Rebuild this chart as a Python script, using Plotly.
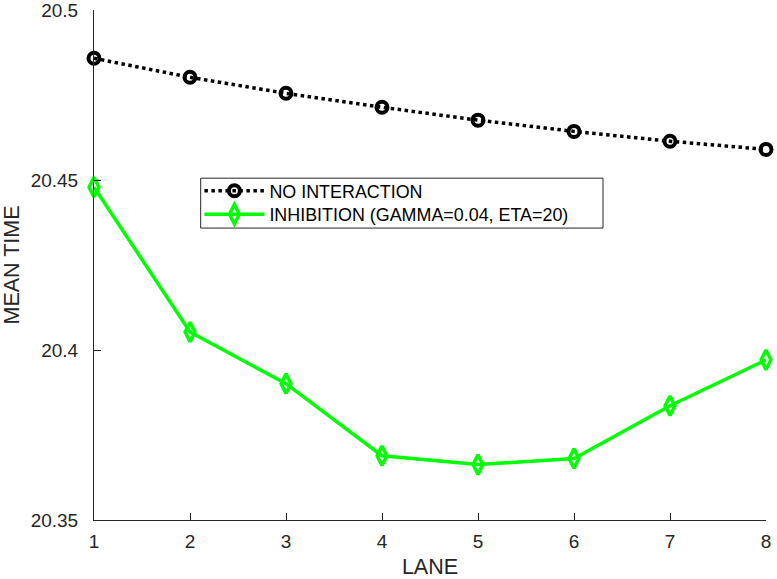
import plotly.graph_objects as go

lanes = [1, 2, 3, 4, 5, 6, 7, 8]
no_interaction = [20.4858, 20.4802, 20.4755, 20.4714, 20.4676, 20.4643, 20.4614, 20.4590]
inhibition = [20.4479, 20.4053, 20.3901, 20.3689, 20.3663, 20.3681, 20.3836, 20.3971]
name_a = "NO INTERACTION"
name_b = "INHIBITION (GAMMA=0.04, ETA=20)"
y_ticks = [20.35, 20.4, 20.45, 20.5]
y_tick_text = ["20.35", "20.4", "20.45", "20.5"]
x_ticks = [1, 2, 3, 4, 5, 6, 7, 8]

axis_color = "#262626"
font_family = "Liberation Sans, Arial, Helvetica, sans-serif"

L, R, T, B = 94, 11, 9.5, 58.5
W, H = 777, 579
pw, ph = W - L - R, H - T - B


def px_x(p):
    return (p - L) / pw


def px_y(p):
    return (H - B - p) / ph


fig = go.Figure()
fig.add_trace(go.Scatter(
    x=lanes, y=no_interaction, name=name_a, mode="lines+markers",
    line=dict(color="black", width=3.5, dash="dot"),
    marker=dict(symbol="circle-open", size=11, color="black", line=dict(width=4, color="black")),
    cliponaxis=False, legend="legend",
))
fig.add_trace(go.Scatter(
    x=lanes, y=inhibition, name=name_b, mode="lines+markers",
    line=dict(color="#00ff00", width=3.5),
    marker=dict(symbol="diamond-tall-open", size=14, color="#00ff00", line=dict(width=3.5, color="#00ff00")),
    cliponaxis=False, legend="legend2",
))

leg_common = dict(
    xanchor="left", yanchor="middle",
    borderwidth=0, bgcolor="rgba(0,0,0,0)",
    font=dict(size=17.9, color="black", family=font_family),
    itemwidth=60,
)

fig.update_layout(
    width=W, height=H,
    margin=dict(l=L, r=R, t=T, b=B, pad=0),
    plot_bgcolor="white", paper_bgcolor="white",
    font=dict(family=font_family, color=axis_color, size=19),
    showlegend=True,
    legend=dict(x=px_x(199.4), y=px_y(191), **leg_common),
    legend2=dict(x=px_x(199.4), y=px_y(214.5), **leg_common),
    shapes=[dict(
        type="rect", xref="paper", yref="paper",
        x0=px_x(200.7), x1=px_x(603), y0=px_y(228), y1=px_y(178),
        line=dict(color=axis_color, width=1), fillcolor="rgba(0,0,0,0)", layer="below",
    )],
    xaxis=dict(
        range=[1, 8], tickvals=x_ticks, ticks="inside", ticklen=7, tickcolor=axis_color,
        showline=True, linecolor=axis_color, linewidth=1, showgrid=False, zeroline=False,
        automargin=False, ticklabeloverflow="allow", ticklabelstandoff=4,
        title=dict(text="LANE", font=dict(size=21.5), standoff=17),
        tickfont=dict(size=19),
    ),
    yaxis=dict(
        range=[20.35, 20.5], tickvals=y_ticks, ticktext=y_tick_text, ticks="inside", ticklen=7,
        tickcolor=axis_color, showline=True, linecolor=axis_color, linewidth=1,
        showgrid=False, zeroline=False, automargin=False,
        ticklabeloverflow="allow", ticklabelstandoff=11,
        title=dict(text="MEAN TIME", font=dict(size=21.5), standoff=10),
        tickfont=dict(size=19),
    ),
)

fig.write_html(
    "out.html",
    config={"displayModeBar": False},
    post_script="document.body.style.margin='0';document.body.style.overflow='hidden';",
)
